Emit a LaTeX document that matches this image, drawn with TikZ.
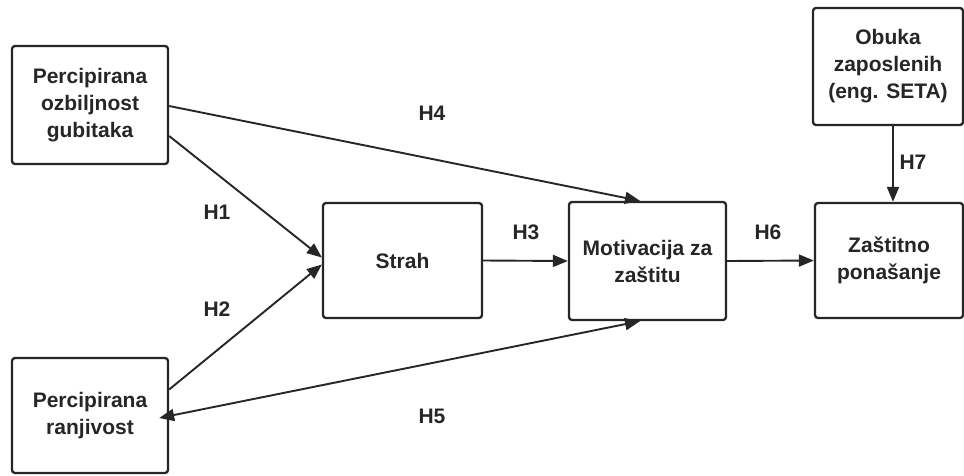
\documentclass[tikz,border=0pt]{standalone}
\usepackage{fontspec}
\setmainfont{Liberation Sans}
\usetikzlibrary{arrows.meta}
\definecolor{ink}{HTML}{262626}
\tikzset{
  box/.style={draw=ink, line width=2.3pt, rounded corners=3pt, fill=white,
    text=ink, font=\fontsize{21}{27}\selectfont\bfseries, align=center,
    inner sep=0pt},
  tip/.style={Triangle[length=15pt,width=12pt]},
  conn/.style={draw=ink, line width=1.9pt, -{Triangle[length=15pt,width=12pt]}},
  biconn/.style={draw=ink, line width=1.9pt, {Triangle[length=15pt,width=12pt]}-{Triangle[length=15pt,width=12pt]}},
  hlabel/.style={text=ink, font=\fontsize{21}{25}\selectfont\bfseries}
}
\begin{document}
\begin{tikzpicture}[x=1pt,y=-1pt]
\useasboundingbox (0,0) rectangle (964,475);
\node[box, minimum width=156pt, minimum height=118pt] (A) at (90,105) {Percipirana\\ozbiljnost\\gubitaka};
\node[box, minimum width=156pt, minimum height=115pt] (B) at (90,415.5) {Percipirana\\ranjivost};
\node[box, minimum width=159pt, minimum height=115pt] (S) at (402.5,260.5) {Strah};
\node[box, minimum width=157pt, minimum height=118pt] (M) at (647.5,261) {Motivacija za\\zaštitu};
\node[box, minimum width=148pt, minimum height=115pt] (Z) at (889,260.5) {Zaštitno\\ponašanje};
\node[box, minimum width=150pt, minimum height=117pt] (O) at (888,66.5) {Obuka\\zaposlenih\\(eng. SETA)};

\draw[conn] ([yshift=-1pt]A.east) -- ([xshift=-7.5pt]M.north);
\draw[conn] ([yshift=-31pt]A.east) -- ([yshift=3pt]S.west);
\draw[conn] ([yshift=26pt]B.east) -- ([yshift=-4pt]S.west);
\draw[biconn] ([xshift=-7.5pt]M.south) -- ([yshift=-2.5pt,xshift=-10pt]B.east);
\draw[conn] (S.east) -- (M.west);
\draw[conn] (M.east) -- (Z.west);
\draw[conn] ([xshift=5pt]O.south) -- ([xshift=4pt]Z.north);

\node[hlabel] (h1) at (217,212) {H1};
\node[hlabel] (h2) at (217,309) {H2};
\node[hlabel] (h3) at (526,232) {H3};
\node[hlabel] (h4) at (432,113) {H4};
\node[hlabel] (h5) at (432,416) {H5};
\node[hlabel] (h6) at (768,232) {H6};
\node[hlabel] (h7) at (913,162) {H7};
\end{tikzpicture}
\end{document}
